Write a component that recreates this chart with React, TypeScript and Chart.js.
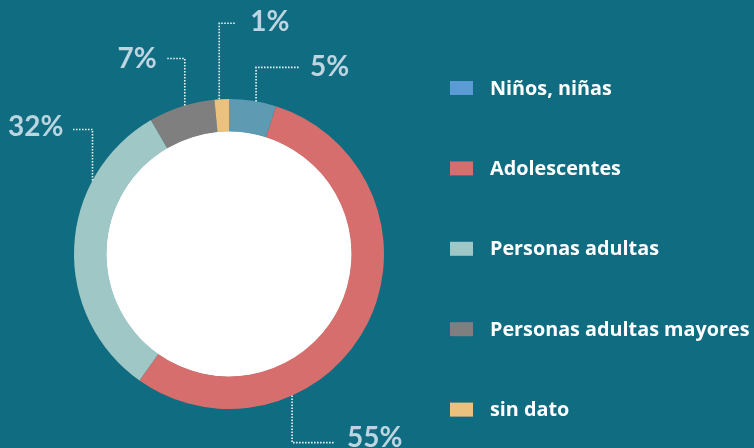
import { useEffect, useRef } from "react";
import { Chart, registerables } from "chart.js";

Chart.register(...registerables);

const categories = ["Niños, niñas", "Adolescentes", "Personas adultas", "Personas adultas mayores", "sin dato"];
const values = [4.9, 54.9, 31.8, 6.9, 1.5];
const percentLabels = ["5%", "55%", "32%", "7%", "1%"];
const sliceColors = ["#5f9ab3", "#d56e6c", "#9fc7c6", "#7f7f7f", "#ebc17f"];
const legendColors = ["#5b9bd5", "#d56e6c", "#9fc7c6", "#7f7f7f", "#ebc17f"];

const BG = "#0f6c81";
const LABEL_COLOR = "#bcd5e1";
const FONT = "Lato, 'Open Sans', sans-serif";
const LEGEND_FONT = "'Open Sans', Lato, sans-serif";

// leader line styling per slice: position of anchor within slice, vertical run, horizontal run, gap, text offset
const leaders = [
  { frac: 0.57, dy: -34, dx: 44, gap: 10, ty: 0 },
  { frac: 0.7, dy: 47, dx: 43, gap: 12, ty: -5 },
  { frac: 0.725, dy: -51, dx: -20, gap: 9, ty: -3 },
  { frac: 0.55, dy: -47, dx: -19, gap: 9, ty: 1 },
  { frac: 0.33, dy: -76, dx: 16, gap: 15, ty: -1 },
];

const customPlugin = {
  id: "customDecor",
  beforeDatasetsDraw(chart: any) {
    const meta = chart.getDatasetMeta(0);
    const arc = meta.data[0];
    if (!arc) return;
    const { x, y, innerRadius } = arc.getProps(["x", "y", "innerRadius"], true);
    const ctx = chart.ctx;
    ctx.save();
    ctx.beginPath();
    ctx.arc(x, y, innerRadius + 0.5, 0, Math.PI * 2);
    ctx.fillStyle = "#ffffff";
    ctx.fill();
    ctx.restore();
  },
  afterDraw(chart: any) {
    const ctx = chart.ctx;
    const meta = chart.getDatasetMeta(0);
    ctx.save();
    meta.data.forEach((arc: any, i: number) => {
      const { x, y, startAngle, endAngle, outerRadius } = arc.getProps(
        ["x", "y", "startAngle", "endAngle", "outerRadius"],
        true
      );
      const L = leaders[i];
      const a = startAngle + L.frac * (endAngle - startAngle);
      const px = x + outerRadius * Math.cos(a);
      const py = y + outerRadius * Math.sin(a);
      const ey = py + L.dy;
      const ex = px + L.dx;
      ctx.beginPath();
      ctx.setLineDash([1.5, 1.5]);
      ctx.lineWidth = 1.6;
      ctx.strokeStyle = "rgba(255,255,255,0.95)";
      ctx.moveTo(px, py);
      ctx.lineTo(px, ey);
      ctx.lineTo(ex, ey);
      ctx.stroke();
      ctx.setLineDash([]);
      ctx.font = `bold 28px ${FONT}`;
      ctx.fillStyle = LABEL_COLOR;
      ctx.textBaseline = "middle";
      if (L.dx >= 0) {
        ctx.textAlign = "left";
        ctx.fillText(percentLabels[i], ex + L.gap, ey + L.ty);
      } else {
        ctx.textAlign = "right";
        ctx.fillText(percentLabels[i], ex - L.gap, ey + L.ty);
      }
    });
    // legend
    const lx = 450;
    const top = 88;
    const step = 80.4;
    ctx.font = `bold 19.8px ${LEGEND_FONT}`;
    ctx.textAlign = "left";
    ctx.textBaseline = "middle";
    chart.data.labels.forEach((lab: string, i: number) => {
      const cy = top + i * step;
      ctx.fillStyle = legendColors[i];
      ctx.fillRect(lx, cy - 7, 23, 14);
      ctx.fillStyle = "#ffffff";
      ctx.fillText(lab, lx + 40, cy + 1);
    });
    ctx.restore();
  },
};

export default function App() {
  const ref = useRef<HTMLCanvasElement | null>(null);
  useEffect(() => {
    document.body.style.margin = "0";
    document.body.style.background = BG;
    const chart = new Chart(ref.current as HTMLCanvasElement, {
      type: "doughnut",
      data: {
        labels: categories,
        datasets: [
          {
            data: values,
            backgroundColor: sliceColors,
            borderWidth: 0,
          },
        ],
      },
      options: {
        animation: false,
        responsive: false,
        cutout: "79%",
        layout: { padding: { left: 74, right: 370, top: 99, bottom: 39 } },
        plugins: {
          legend: { display: false },
          tooltip: { enabled: false },
        },
      },
      plugins: [customPlugin],
    });
    return () => chart.destroy();
  }, []);
  return (
    <div style={{ width: 754, height: 448, background: BG }}>
      <canvas ref={ref} width={754} height={448} style={{ display: "block" }} />
    </div>
  );
}
